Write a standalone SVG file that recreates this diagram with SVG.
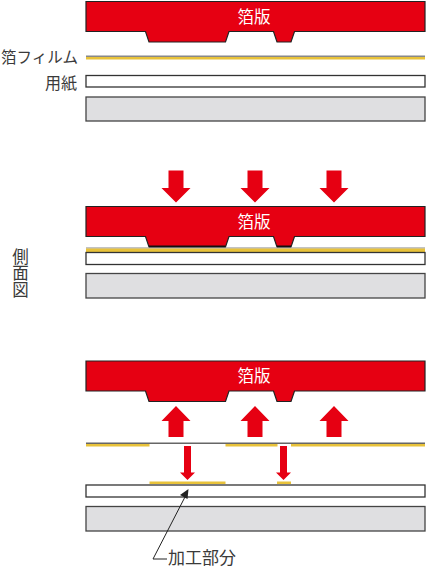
<svg xmlns="http://www.w3.org/2000/svg" width="426" height="568" viewBox="0 0 426 568">
<style>
.plate{fill:#e60012;stroke:#222;stroke-width:1.2}
.paper{fill:#fff;stroke:#333;stroke-width:1.3}
.base{fill:#dfdfe1;stroke:#444;stroke-width:1.3}
.gold{fill:#e8c23a}
.arrow{fill:#e60012}
.t{font-family:"Noto Sans CJK JP","Noto Sans",sans-serif;font-size:15.500px;fill:#3a3a3a}
.w{font-family:"Noto Sans CJK JP","Noto Sans",sans-serif;font-size:16.500px;fill:#fff;text-anchor:middle}
</style>
<defs>
<path id="plateShape" d="M86 0H425V30H294.500L291 40.500H277L273.500 30H229L225.500 40.500H149L145.500 30H86Z"/>
<path id="down" d="M-7.500 0H7.500V17.500H14.500L0 32L-14.500 17.500H-7.500Z"/>
<path id="up" d="M0 0L14.500 15H7.500V31H-7.500V15H-14.500Z"/>
</defs>
<g id="stage1">
<g id="plate1"><use href="#plateShape" y="1.500" class="plate"/><text class="w" x="254" y="22.500">箔版</text></g>
<g id="film1"><rect x="86" y="55.500" width="339" height="1.500" fill="#888"/><rect class="gold" x="86" y="57" width="339" height="2.500"/><text class="t" x="1" y="63">箔フィルム</text></g>
<g id="paper1"><rect class="paper" x="86" y="75.500" width="339" height="11.500"/><text class="t" x="45" y="89" style="font-size:16px">用紙</text></g>
<g id="base1"><rect class="base" x="86" y="97" width="339" height="24"/></g>
</g>
<g id="stage2">
<g id="label2"><text class="t" x="20.500" y="248" style="writing-mode:vertical-rl;font-size:16.500px">側面図</text></g>
<g id="plate2"><use href="#plateShape" y="206.500" class="plate"/><text class="w" x="254" y="227.500">箔版</text><path d="M149 246.500H225.500M277 246.500H291" stroke="#111" stroke-width="2" fill="none"/></g>
<g id="film2"><rect x="86" y="247.500" width="339" height="1" fill="#888"/><rect class="gold" x="86" y="248.500" width="339" height="3.500"/></g>
<g id="paper2"><rect class="paper" x="86" y="252.500" width="339" height="12"/></g>
<g id="base2"><rect class="base" x="86" y="273.500" width="339" height="24.500"/></g>
</g>
<g id="stage3">
<g id="plate3"><use href="#plateShape" y="361" class="plate"/><text class="w" x="254" y="382">箔版</text></g>
<g id="film3"><rect x="86" y="442.500" width="339" height="1.500" fill="#666"/><g class="gold"><rect x="86" y="444" width="63.500" height="2.500"/><rect x="225.500" y="444" width="52" height="2.500"/><rect x="291" y="444" width="134" height="2.500"/><rect x="149.500" y="481.500" width="76" height="2.500"/><rect x="277" y="481.500" width="14" height="2.500"/></g></g>
<g id="paper3"><rect class="paper" x="86" y="485" width="339" height="12"/></g>
<g id="base3"><rect class="base" x="86" y="506.500" width="339" height="24.500"/></g>
<g id="label3"><text class="t" x="168" y="563.500" style="font-size:17px">加工部分</text></g>
</g>
<g id="connectors">
<use href="#down" x="176" y="170.500" class="arrow"/>
<use href="#down" x="255" y="170.500" class="arrow"/>
<use href="#down" x="334" y="170.500" class="arrow"/>
<use href="#up" x="176" y="406" class="arrow"/>
<use href="#up" x="255" y="406" class="arrow"/>
<use href="#up" x="334" y="406" class="arrow"/>
<path class="arrow" d="M184 446H191V472.500H195L187.500 480L180 472.500H184Z"/>
<path class="arrow" d="M280 446H287V472.500H291L283.500 480L276 472.500H280Z"/>
<path d="M167 559H153L186 495" fill="none" stroke="#222" stroke-width="1"/>
<path d="M188.500 489L187.500 499L180 495Z" fill="#222"/>
</g>
</svg>
